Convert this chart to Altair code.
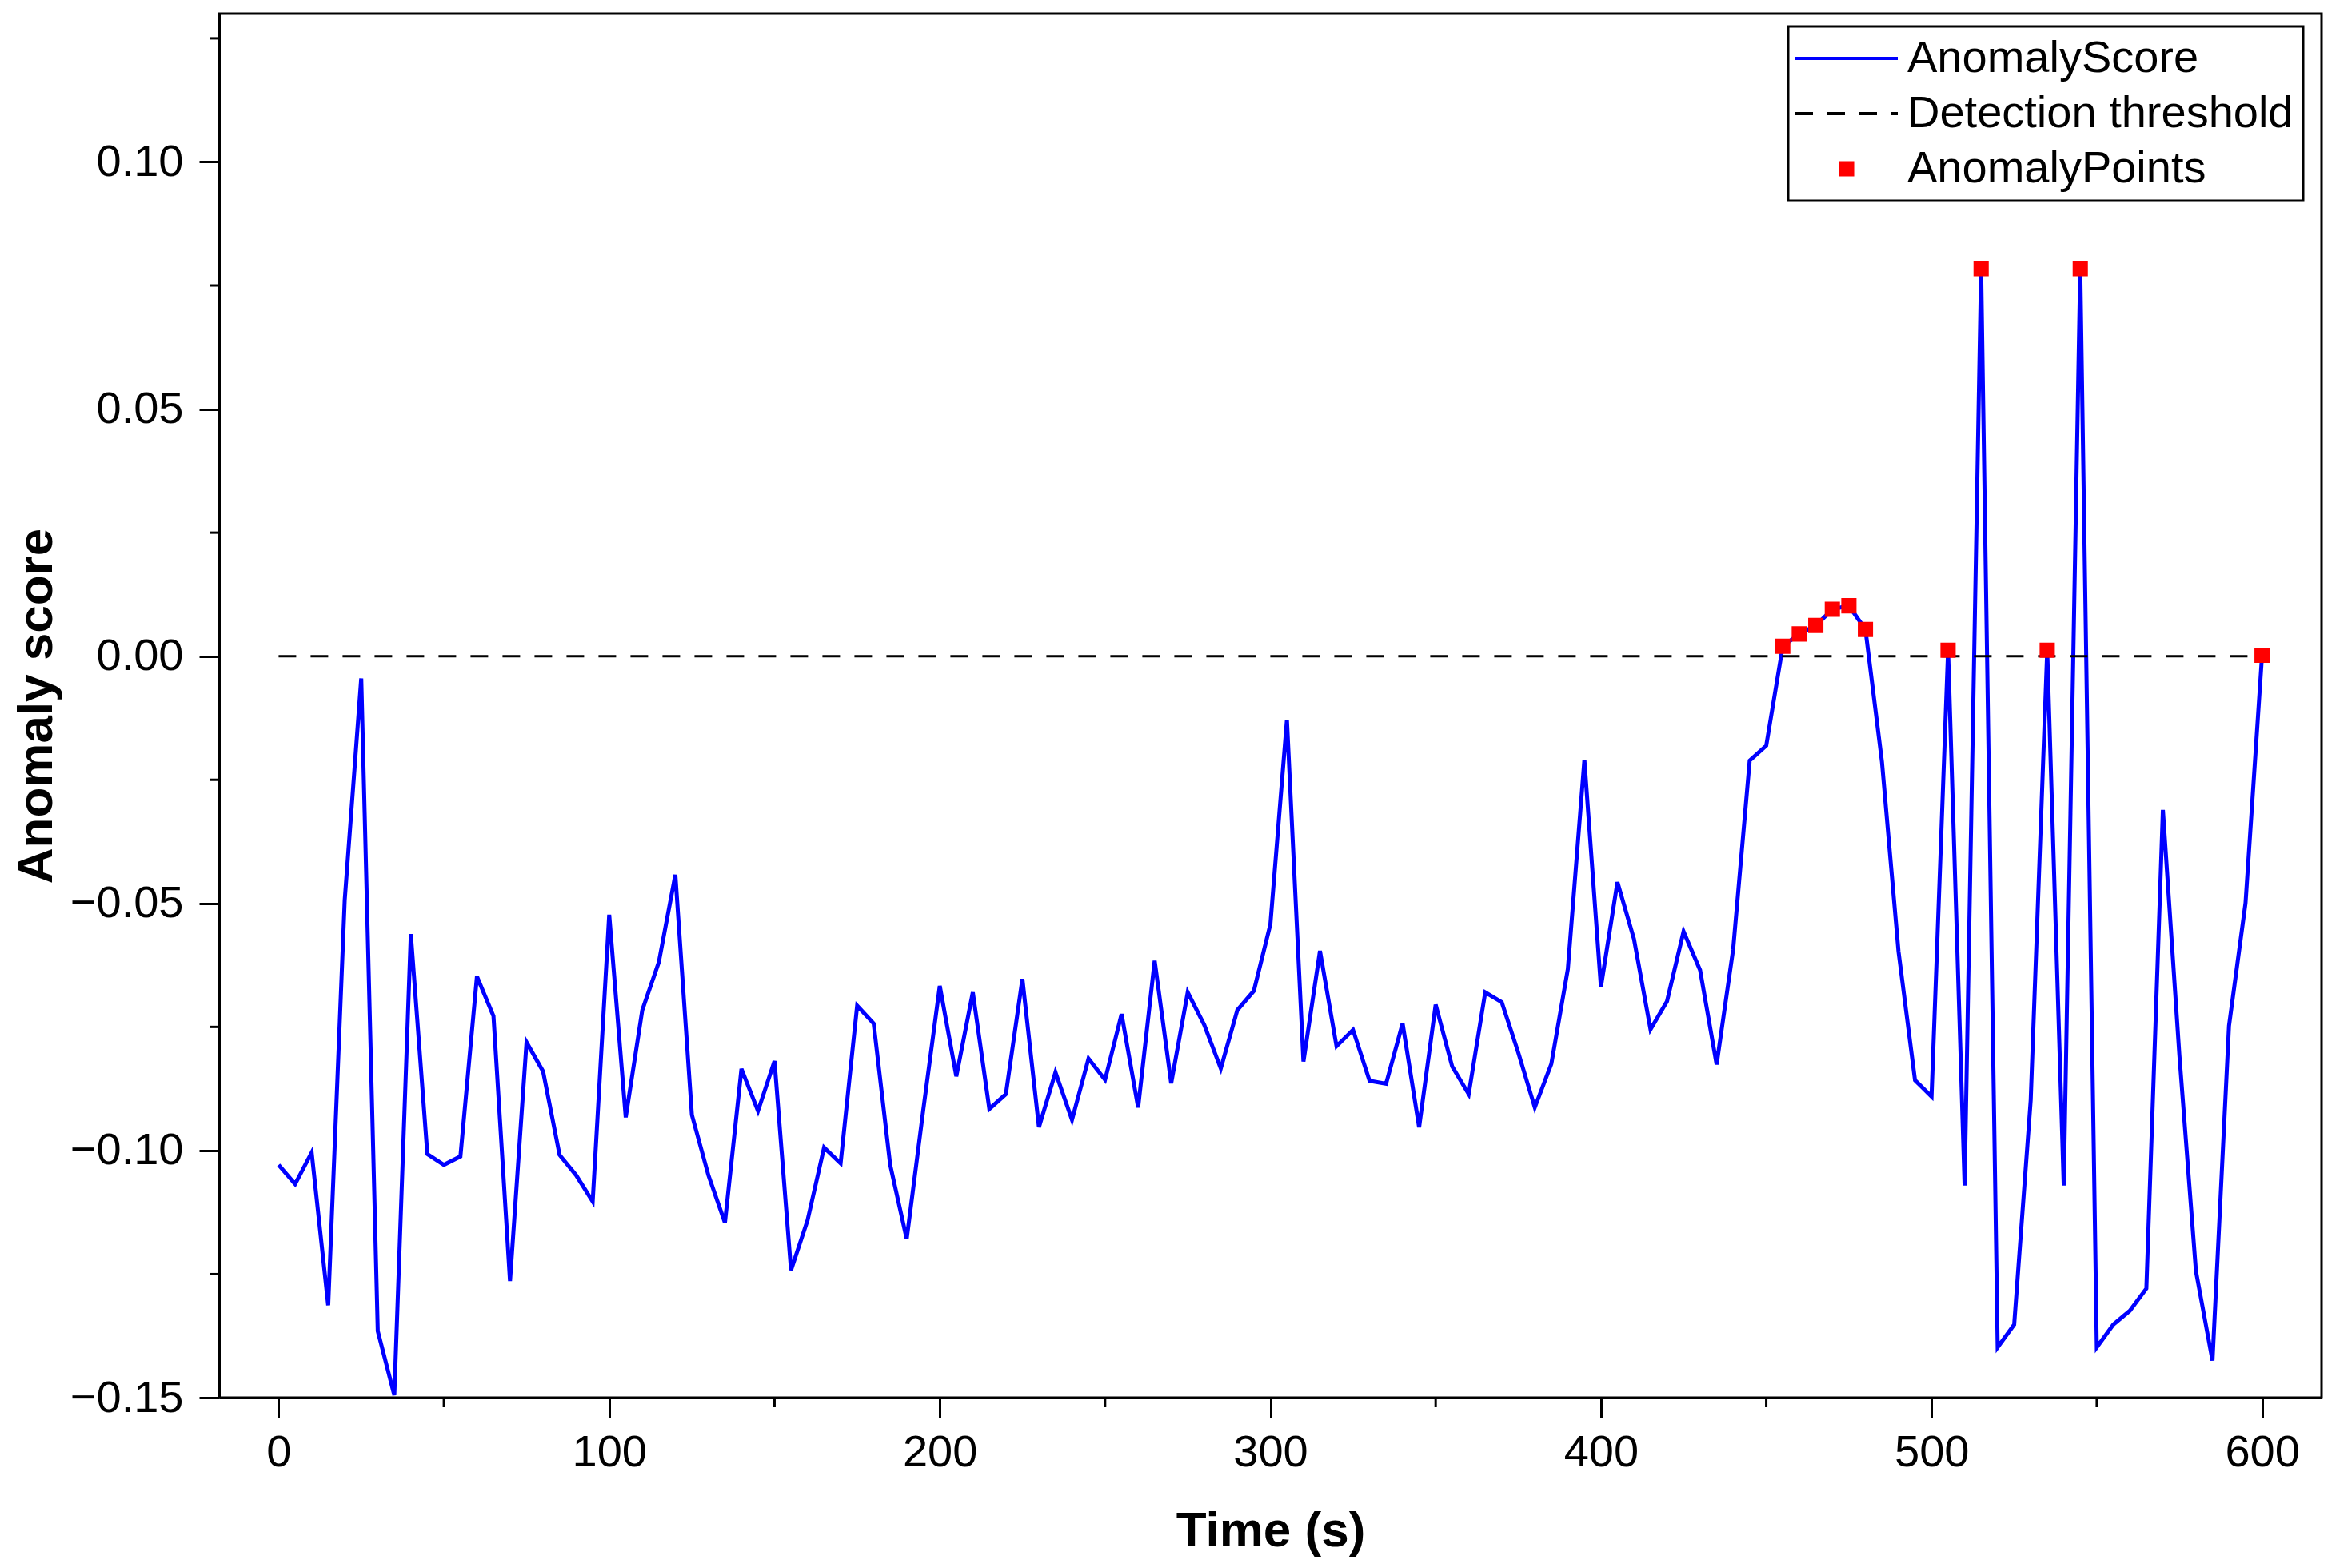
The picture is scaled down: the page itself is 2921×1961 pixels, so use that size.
import altair as alt
import pandas as pd

# ---------------- data ----------------
time_s = [
    0, 5, 10, 15, 20, 25, 30, 35, 40, 45, 50, 55, 60, 65, 70, 75, 80, 85, 90, 95,
    100, 105, 110, 115, 120, 125, 130, 135, 140, 145, 150, 155, 160, 165, 170, 175, 180, 185, 190, 195,
    200, 205, 210, 215, 220, 225, 230, 235, 240, 245, 250, 255, 260, 265, 270, 275, 280, 285, 290, 295,
    300, 305, 310, 315, 320, 325, 330, 335, 340, 345, 350, 355, 360, 365, 370, 375, 380, 385, 390, 395,
    400, 405, 410, 415, 420, 425, 430, 435, 440, 445, 450, 455, 460, 465, 470, 475, 480, 485, 490, 495,
    500, 505, 510, 515, 520, 525, 530, 535, 540, 545, 550, 555, 560, 565, 570, 575, 580, 585, 590, 595,
    600,
]
anomaly_score = [
    -0.1029, -0.1068, -0.1004, -0.1313, -0.0493, -0.0045, -0.1365, -0.1495, -0.0562, -0.1007,
    -0.1029, -0.1012, -0.0648, -0.0728, -0.1264, -0.0781, -0.0840, -0.1009, -0.1050, -0.1103,
    -0.0523, -0.0933, -0.0716, -0.0619, -0.0442, -0.0928, -0.1050, -0.1146, -0.0835, -0.0920,
    -0.0819, -0.1242, -0.1141, -0.0994, -0.1026, -0.0707, -0.0743, -0.1029, -0.1179, -0.0918,
    -0.0667, -0.0850, -0.0680, -0.0916, -0.0886, -0.0653, -0.0953, -0.0842, -0.0938, -0.0814,
    -0.0857, -0.0724, -0.0913, -0.0616, -0.0864, -0.0680, -0.0746, -0.0834, -0.0716, -0.0677,
    -0.0542, -0.0129, -0.0820, -0.0596, -0.0789, -0.0756, -0.0859, -0.0865, -0.0743, -0.0953,
    -0.0705, -0.0830, -0.0886, -0.0680, -0.0700, -0.0802, -0.0913, -0.0825, -0.0633, -0.0210,
    -0.0669, -0.0457, -0.0572, -0.0755, -0.0698, -0.0557, -0.0635, -0.0826, -0.0593, -0.0211,
    -0.0181, 0.0020, 0.0045, 0.0062, 0.0095, 0.0102, 0.0054, -0.0214, -0.0597, -0.0858,
    -0.0891, 0.0012, -0.1071, 0.0784, -0.1398, -0.1352, -0.0898, 0.0012, -0.1071, 0.0784,
    -0.1398, -0.1352, -0.1324, -0.1279, -0.0311, -0.0808, -0.1244, -0.1425, -0.0748, -0.0499,
    0.0002,
]
anomaly_times = [455, 460, 465, 470, 475, 480, 505, 515, 535, 545, 600]
threshold_time = [0, 600]
threshold_value = [0.0, 0.0]

series_names = ["AnomalyScore", "Detection threshold", "AnomalyPoints"]
series_colors = ["#0000FF", "#000000", "#FF0000"]

x_tick_values = [0, 100, 200, 300, 400, 500, 600]
x_minor_values = [50, 150, 250, 350, 450, 550]
y_tick_values = [-0.15, -0.10, -0.05, 0.0, 0.05, 0.10]
y_minor_values = [-0.125, -0.075, -0.025, 0.025, 0.075, 0.125]

# ---------------- tables ----------------
score_df = pd.DataFrame({"t": time_s, "score": anomaly_score})
score_lookup = dict(zip(time_s, anomaly_score))
points_df = pd.DataFrame({
    "t": anomaly_times,
    "score": [score_lookup[t] for t in anomaly_times],
    "series": ["AnomalyPoints"] * len(anomaly_times),
})
thr_df = pd.DataFrame({"t": threshold_time, "score": threshold_value})
xminor_df = pd.DataFrame({"t": x_minor_values})
yminor_df = pd.DataFrame({"score": y_minor_values})

# ---------------- styling ----------------
PLOT_W, PLOT_H = 2629, 1731
FONT = "Liberation Sans"

# legend symbol shapes (unit = sqrt(symbolSize)/2 = 16 px)
shape_paths = [
    "M-4,0H4",
    "M-4,0H-2.625M-1.5,0H-0.125M1,0H2.375M3.5,0H4",
    "M-0.47,-0.47H0.47V0.47H-0.47Z",
]

xscale = alt.Scale(domain=[-18, 618], nice=False, zero=False)
yscale = alt.Scale(domain=[-0.15, 0.13], nice=False, zero=False)

x_axis = alt.Axis(values=x_tick_values, title="Time (s)", format="d",
                  labelPadding=16, titlePadding=40)
y_axis = alt.Axis(values=y_tick_values, title="Anomaly score", format=".2f",
                  labelPadding=20, titlePadding=10)

X = alt.X("t:Q", scale=xscale, axis=x_axis)
Y = alt.Y("score:Q", scale=yscale, axis=y_axis)

legend = alt.Legend(
    title=None, orient="none", legendX=1962, legendY=16,
    labelFont=FONT, labelFontSize=56, labelColor="black", labelLimit=2000,
    symbolSize=1024, symbolStrokeWidth=4, symbolOffset=33, labelOffset=48,
    rowPadding=13, padding=12, strokeColor="black", fillColor="white",
)

line = alt.Chart(score_df).mark_line(color="#0000FF", strokeWidth=5).encode(x=X, y=Y)

thr = alt.Chart(thr_df).mark_line(color="black", strokeWidth=3, strokeDash=[22, 18]).encode(x=X, y=Y)

pts = alt.Chart(points_df).mark_point(
    filled=False, fill="#FF0000", size=1024, strokeWidth=4, opacity=1
).encode(
    x=X, y=Y,
    color=alt.Color("series:N", scale=alt.Scale(domain=series_names, range=series_colors), legend=legend),
    shape=alt.Shape("series:N", scale=alt.Scale(domain=series_names, range=shape_paths), legend=legend),
)

xminor = alt.Chart(xminor_df).mark_rule(color="black", strokeWidth=3).encode(
    x=X,
    y=alt.value(PLOT_H),
    y2=alt.value(PLOT_H + 12),
)

yminor = alt.Chart(yminor_df).mark_rule(color="black", strokeWidth=3).encode(
    y=Y,
    x=alt.value(-12),
    x2=alt.value(0),
)

chart = alt.layer(line, thr, pts, xminor, yminor).properties(
    width=PLOT_W, height=PLOT_H,
    autosize=alt.AutoSizeParams(type="none"),
    padding={"left": 266, "top": 9, "right": 10, "bottom": 205},
    background="white",
).configure_view(
    stroke="black", strokeWidth=3,
).configure_axis(
    grid=False, domainColor="black", domainWidth=3, tickColor="black", tickWidth=3,
    tickSize=25, labelFont=FONT, labelFontSize=56, labelColor="black",
    titleFont=FONT, titleFontSize=62, titleFontWeight="bold", titleColor="black",
).configure_legend(
    strokeWidth=3,
)

chart.save("out.html", embed_options={"renderer": "svg", "actions": False})
